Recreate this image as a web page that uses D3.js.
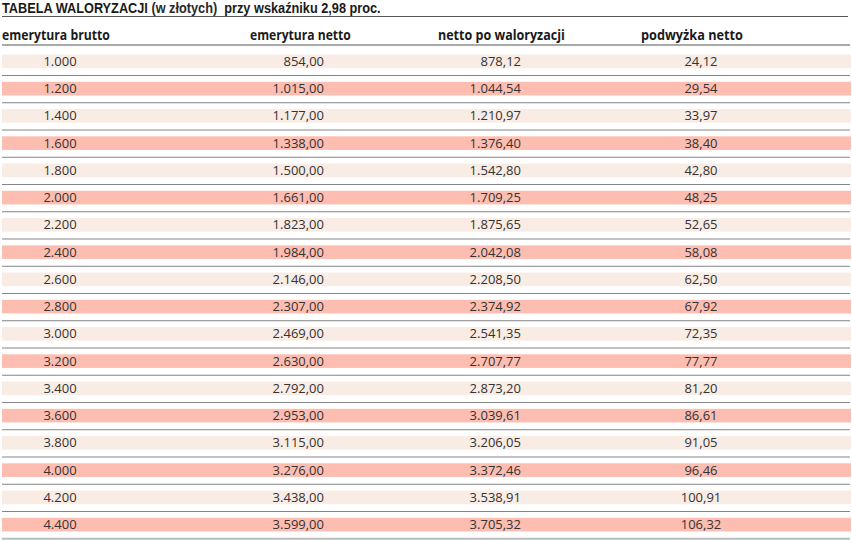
<!DOCTYPE html>
<html>
<head>
<meta charset="utf-8">
<script src="https://cdn.jsdelivr.net/npm/d3@7"></script>
<style>
  html, body { margin: 0; padding: 0; background: #fff; }
  svg { display: block; }
  text { font-family: "Open Sans", "Noto Sans", sans-serif; }
</style>
</head>
<body>
<svg id="chart" width="852" height="540"></svg>
<script>
// ---- data ----
const titleParts = ["TABELA WALORYZACJI ", "(w złotych)", "  przy wskaźniku 2,98 proc."];
const columns = ["emerytura brutto", "emerytura netto", "netto po waloryzacji", "podwyżka netto"];
const brutto = ["1.000","1.200","1.400","1.600","1.800","2.000","2.200","2.400","2.600","2.800","3.000","3.200","3.400","3.600","3.800","4.000","4.200","4.400"];
const netto = ["854,00","1.015,00","1.177,00","1.338,00","1.500,00","1.661,00","1.823,00","1.984,00","2.146,00","2.307,00","2.469,00","2.630,00","2.792,00","2.953,00","3.115,00","3.276,00","3.438,00","3.599,00"];
const nettoPo = ["878,12","1.044,54","1.210,97","1.376,40","1.542,80","1.709,25","1.875,65","2.042,08","2.208,50","2.374,92","2.541,35","2.707,77","2.873,20","3.039,61","3.206,05","3.372,46","3.538,91","3.705,32"];
const podwyzka = ["24,12","29,54","33,97","38,40","42,80","48,25","52,65","58,08","62,50","67,92","72,35","77,77","81,20","86,61","91,05","96,46","100,91","106,32"];

// ---- layout ----
const W = 852;
const svg = d3.select("#chart");
const rows = brutto.map((b, i) => ({ i, vals: [b, netto[i], nettoPo[i], podwyzka[i]] }));

const y = d3.scaleBand()
  .domain(d3.range(rows.length))
  .range([47.75, 538.25])
  .paddingInner(0.5)
  .paddingOuter(0.25);

const colCfg = [
  { x: 60,  anchor: "middle", hx: 2,   hw: 108 },
  { x: 324, anchor: "end",    hx: 250, hw: 101 },
  { x: 521, anchor: "end",    hx: 438, hw: 127 },
  { x: 701, anchor: "middle", hx: 641, hw: 102 }
];

// title
const title = svg.append("text")
  .attr("x", 2).attr("y", 13)
  .style("white-space", "pre")
  .style("font-family", "'Liberation Sans', Arial, sans-serif")
  .attr("font-size", 14.4).attr("font-weight", 700).attr("fill", "#1a1a1a");
title.selectAll("tspan").data(titleParts).join("tspan")
  .attr("fill", (d, i) => i === 1 ? "#2a2a2a" : "#1a1a1a")
  .text(d => d);
{
  const w = title.node().getComputedTextLength();
  title.attr("transform", `translate(2,0) scale(${379 / w},1) translate(-2,0)`);
}
svg.append("line").attr("x1", 2).attr("x2", 848).attr("y1", 16.5).attr("y2", 16.5)
  .attr("stroke", "#555").attr("stroke-width", 1.2);

// headers
columns.forEach((c, k) => {
  const t = svg.append("text")
    .attr("x", colCfg[k].hx).attr("y", 40)
    .attr("font-size", 13.5).attr("font-weight", 700).attr("fill", "#1a1a1a")
    .text(c);
  const w = t.node().getComputedTextLength();
  const x0 = colCfg[k].hx;
  t.attr("transform", `translate(${x0},0) scale(${colCfg[k].hw / w},1) translate(${-x0},0)`);
});
svg.append("line").attr("x1", 2).attr("x2", 850).attr("y1", 45).attr("y2", 45)
  .attr("stroke", "#555").attr("stroke-width", 1.2);

// bands
svg.append("g").selectAll("rect").data(rows).join("rect")
  .attr("x", 2).attr("width", W - 3)
  .attr("y", d => y(d.i)).attr("height", y.bandwidth())
  .attr("fill", d => d.i % 2 === 0 ? "#f9ece4" : "#fdbeb1");

// separator lines
svg.append("g").selectAll("line").data(rows).join("line")
  .attr("x1", 2).attr("x2", 850)
  .attr("y1", d => y(d.i) + y.bandwidth() + y.step() * 0.25 + 0.5)
  .attr("y2", d => y(d.i) + y.bandwidth() + y.step() * 0.25 + 0.5)
  .attr("stroke", (d) => d.i === rows.length - 1 ? "#bbb" : "#858585")
  .attr("stroke-width", d => d.i === rows.length - 1 ? 2 : 1.2);

// values
const g = svg.append("g");
rows.forEach(r => {
  r.vals.forEach((v, k) => {
    g.append("text")
      .attr("x", colCfg[k].x)
      .attr("y", y(r.i) + y.bandwidth() / 2 + 4.6)
      .attr("text-anchor", colCfg[k].anchor)
      .attr("font-size", 13).attr("fill", "#333")
      .text(v);
  });
});
</script>
</body>
</html>
